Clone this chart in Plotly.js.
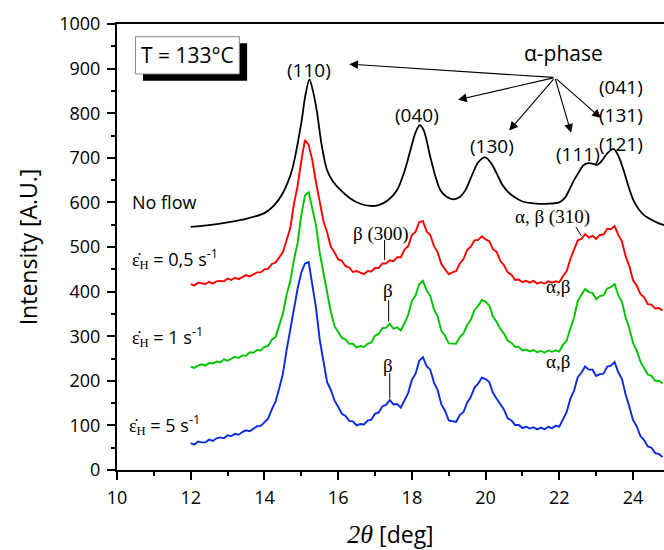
<!DOCTYPE html>
<html><head><meta charset="utf-8">
<script src="https://cdn.plot.ly/plotly-3.0.1.min.js"></script>
<style>html,body{margin:0;padding:0;background:#fff}</style>
</head><body><div id="chart" style="width:664px;height:550px"></div>
<script>
// ---- data ----
const seriesNames = ['No flow', 'ε̇H = 0,5 s-1', 'ε̇H = 1 s-1', 'ε̇H = 5 s-1'];

const noFlowX = [12.0,12.5,13.0,13.5,14.0,14.25,14.5,14.75,15.0,15.1,15.22,15.33,15.43,15.55,15.7,15.85,16.06,16.33,16.6,16.87,17.1,17.35,17.6,17.8,17.96,18.1,18.21,18.32,18.5,18.65,18.77,18.95,19.13,19.3,19.45,19.6,19.8,19.99,20.15,20.3,20.45,20.6,20.76,21.0,21.3,21.7,22.0,22.15,22.27,22.4,22.54,22.65,22.79,22.9,23.02,23.15,23.3,23.47,23.6,23.74,23.88,24.01,24.15,24.29,24.5,24.7,24.85];
const noFlowY = [545,549,555,563,576,592,621,673,778,835,876,845,800,730,672,648,628,609,597,592,594,605,628,670,717,757,773,762,702,655,628,612,607,612,627,655,690,701,688,665,640,624,613,602,598,597,600,610,628,650,669,683,688,687,684,693,710,720,705,673,635,605,585,572,561,553,549];

// flow curves sampled every 0.1 deg starting at 12.0 deg
const flowStart = 12.0;
const flowStep = 0.1;
const rate05Y = [417,414,420,418,417,422,418,423,424,423,429,426,431,428,433,437,434,438,443,443,
450,451,462,465,478,488,515,542,596,637,
693,740,729,694,645,603,558,533,501,488,
472,469,457,454,444,446,442,439,446,445,
453,453,463,463,470,468,477,477,494,502,
527,534,556,558,535,527,502,488,462,451,
439,443,446,463,473,493,501,515,516,524,
517,513,495,489,469,459,443,438,426,427,
421,424,420,424,418,421,418,423,420,423,
421,435,446,473,492,515,518,529,521,525,
518,527,528,541,540,547,527,512,479,457,
426,413,395,387,372,371,362,363,358];
const rate1Y = [232,229,234,237,234,240,239,243,241,248,245,250,254,251,257,256,264,263,269,268,
276,278,292,298,325,350,393,423,471,509,
572,616,623,582,548,487,442,393,355,323,
310,296,293,283,283,275,278,276,283,286,
301,305,318,319,328,317,320,313,329,348,
379,391,417,424,403,390,360,344,312,301,
284,284,283,298,306,325,337,359,368,381,
377,369,344,332,316,306,290,285,276,276,
268,270,266,269,264,267,263,268,265,268,
266,281,290,318,342,379,392,406,399,397,
383,390,392,407,410,417,392,377,342,317,
285,268,243,230,214,211,200,200,194];
const rate5Y = [60,57,64,62,62,68,65,71,73,71,78,76,81,79,85,89,87,92,98,99,
107,115,136,153,183,215,268,312,365,407,
443,463,466,409,363,292,243,197,180,156,
142,126,121,110,109,100,103,102,111,113,
126,129,143,146,157,147,148,140,156,173,
202,216,245,253,233,225,196,179,147,133,
111,109,108,123,130,151,164,185,194,207,
204,197,173,160,146,135,116,111,101,101,
94,97,93,96,91,95,91,97,94,99,
97,115,130,160,178,208,218,232,225,225,
211,215,216,232,234,242,219,204,169,142,
112,98,76,67,53,50,38,36,29];

const xTickVals = [10,12,14,16,18,20,22,24];
const yTickVals = [0,100,200,300,400,500,600,700,800,900,1000];

// ---- traces ----
const traces = [
  {x: noFlowX, y: noFlowY, name: seriesNames[0], mode: 'lines', line: {color: '#000000', width: 1.8, shape: 'spline', smoothing: 0.8}},
  {x0: flowStart, dx: flowStep, y: rate05Y, name: seriesNames[1], mode: 'lines', line: {color: '#ff0000', width: 1.9}},
  {x0: flowStart, dx: flowStep, y: rate1Y, name: seriesNames[2], mode: 'lines', line: {color: '#00c400', width: 1.9}},
  {x0: flowStart, dx: flowStep, y: rate5Y, name: seriesNames[3], mode: 'lines', line: {color: '#0a2ae6', width: 1.9}}
];

const SANS = 'Open Sans, sans-serif';
const SERIF = 'Liberation Serif, Times New Roman, serif';

function lab(text, x, y, size, family, xanchor) {
  return {text: text, x: x, y: y, xref: 'x', yref: 'y', showarrow: false,
          font: {family: family || SANS, size: size || 19, color: '#000'},
          xanchor: xanchor || 'center', yanchor: 'middle'};
}
function arrow(tx, ty, hx, hy) {
  return {text: '', x: tx, y: ty, ax: hx, ay: hy, xref: 'x', yref: 'y', axref: 'x', ayref: 'y',
          showarrow: true, arrowhead: 2, arrowsize: 1.6, arrowwidth: 1.1, arrowcolor: '#000', standoff: 0, startstandoff: 0};
}
function eps(rate) {
  return '<span style="font-family:Liberation Serif">ε̇<sub>H</sub></span> = ' + rate + ' s<sup>-1</sup>';
}

const annotations = [
  lab('T = 133°C', 11.91, 930, 21),
  lab('(110)', 15.22, 897),
  lab('(040)', 18.15, 796),
  lab('(130)', 20.16, 727),
  lab('(111)', 22.50, 708),
  lab('(121)', 23.67, 732),
  lab('(131)', 23.67, 796),
  lab('(041)', 23.67, 858),
  lab('α-phase', 22.11, 934, 21),
  arrow(16.30, 910, 21.88, 880),
  arrow(19.25, 830, 21.88, 880),
  arrow(20.64, 761, 21.88, 880),
  arrow(22.32, 756, 21.88, 880),
  arrow(23.13, 789, 21.88, 880),
  lab('No flow', 10.34, 601, 18, SANS, 'left'),
  lab(eps('0,5'), 10.34, 475, 18, SANS, 'left'),
  lab(eps('1'), 10.34, 299, 18, SANS, 'left'),
  lab(eps('5'), 10.28, 101, 18, SANS, 'left'),
  lab('β (300)', 17.15, 529, 19, SERIF),
  lab('α, β (310)', 21.82, 568, 19, SERIF),
  lab('β', 17.36, 402, 19, SERIF),
  lab('α,β', 21.97, 411, 19, SERIF),
  lab('β', 17.36, 235, 19, SERIF),
  lab('α,β', 21.97, 243, 19, SERIF)
];

const shapes = [
  {type: 'rect', xref: 'x', yref: 'y', x0: 10.705, x1: 13.53, y0: 873, y1: 957, fillcolor: '#000', line: {width: 0}},
  {type: 'rect', xref: 'x', yref: 'y', x0: 10.50, x1: 13.32, y0: 888, y1: 971.5, fillcolor: '#fff', line: {color: '#888', width: 1}},
  {type: 'line', xref: 'x', yref: 'y', x0: 17.26, x1: 17.26, y0: 516, y1: 471, line: {color: '#000', width: 1}},
  {type: 'line', xref: 'x', yref: 'y', x0: 22.45, x1: 22.60, y0: 545, y1: 525, line: {color: '#000', width: 1}},
  {type: 'line', xref: 'x', yref: 'y', x0: 17.37, x1: 17.37, y0: 381, y1: 333, line: {color: '#000', width: 1}},
  {type: 'line', xref: 'x', yref: 'y', x0: 17.40, x1: 17.40, y0: 217, y1: 161, line: {color: '#000', width: 1}}
];

const layout = {
  width: 664, height: 550,
  margin: {l: 117, r: 0, t: 24, b: 80, pad: 0},
  paper_bgcolor: '#fff', plot_bgcolor: '#fff',
  showlegend: false,
  font: {family: SANS, size: 18, color: '#000'},
  xaxis: {
    range: [10, 24.84], tickvals: xTickVals, ticks: 'outside', ticklen: 8, tickwidth: 2, tickcolor: '#000',
    showline: true, linewidth: 2, linecolor: '#000', mirror: true, showgrid: false, zeroline: false,
    tickfont: {family: SANS, size: 18, color: '#000'}, ticklabelstandoff: 2,
    minor: {dtick: 1, tick0: 10, ticks: 'outside', ticklen: 4, tickwidth: 2, tickcolor: '#000', showgrid: false},
    title: {text: '<span style="font-family:Liberation Serif;font-size:26px"><i>2θ</i></span> [deg]', font: {family: SANS, size: 23, color: '#000'}, standoff: 20}
  },
  yaxis: {
    range: [0, 1000], tickvals: yTickVals, ticks: 'outside', ticklen: 8, tickwidth: 2, tickcolor: '#000',
    showline: true, linewidth: 2, linecolor: '#000', mirror: false, showgrid: false, zeroline: false,
    tickfont: {family: SANS, size: 18, color: '#000'}, ticklabelstandoff: 3,
    minor: {dtick: 50, tick0: 0, ticks: 'outside', ticklen: 4, tickwidth: 2, tickcolor: '#000', showgrid: false},
    title: {text: 'Intensity [A.U.]', font: {family: SANS, size: 23, color: '#000'}, standoff: 15}
  },
  annotations: annotations,
  shapes: shapes
};

Plotly.newPlot('chart', traces, layout, {displayModeBar: false, staticPlot: true});
</script>
</body></html>
